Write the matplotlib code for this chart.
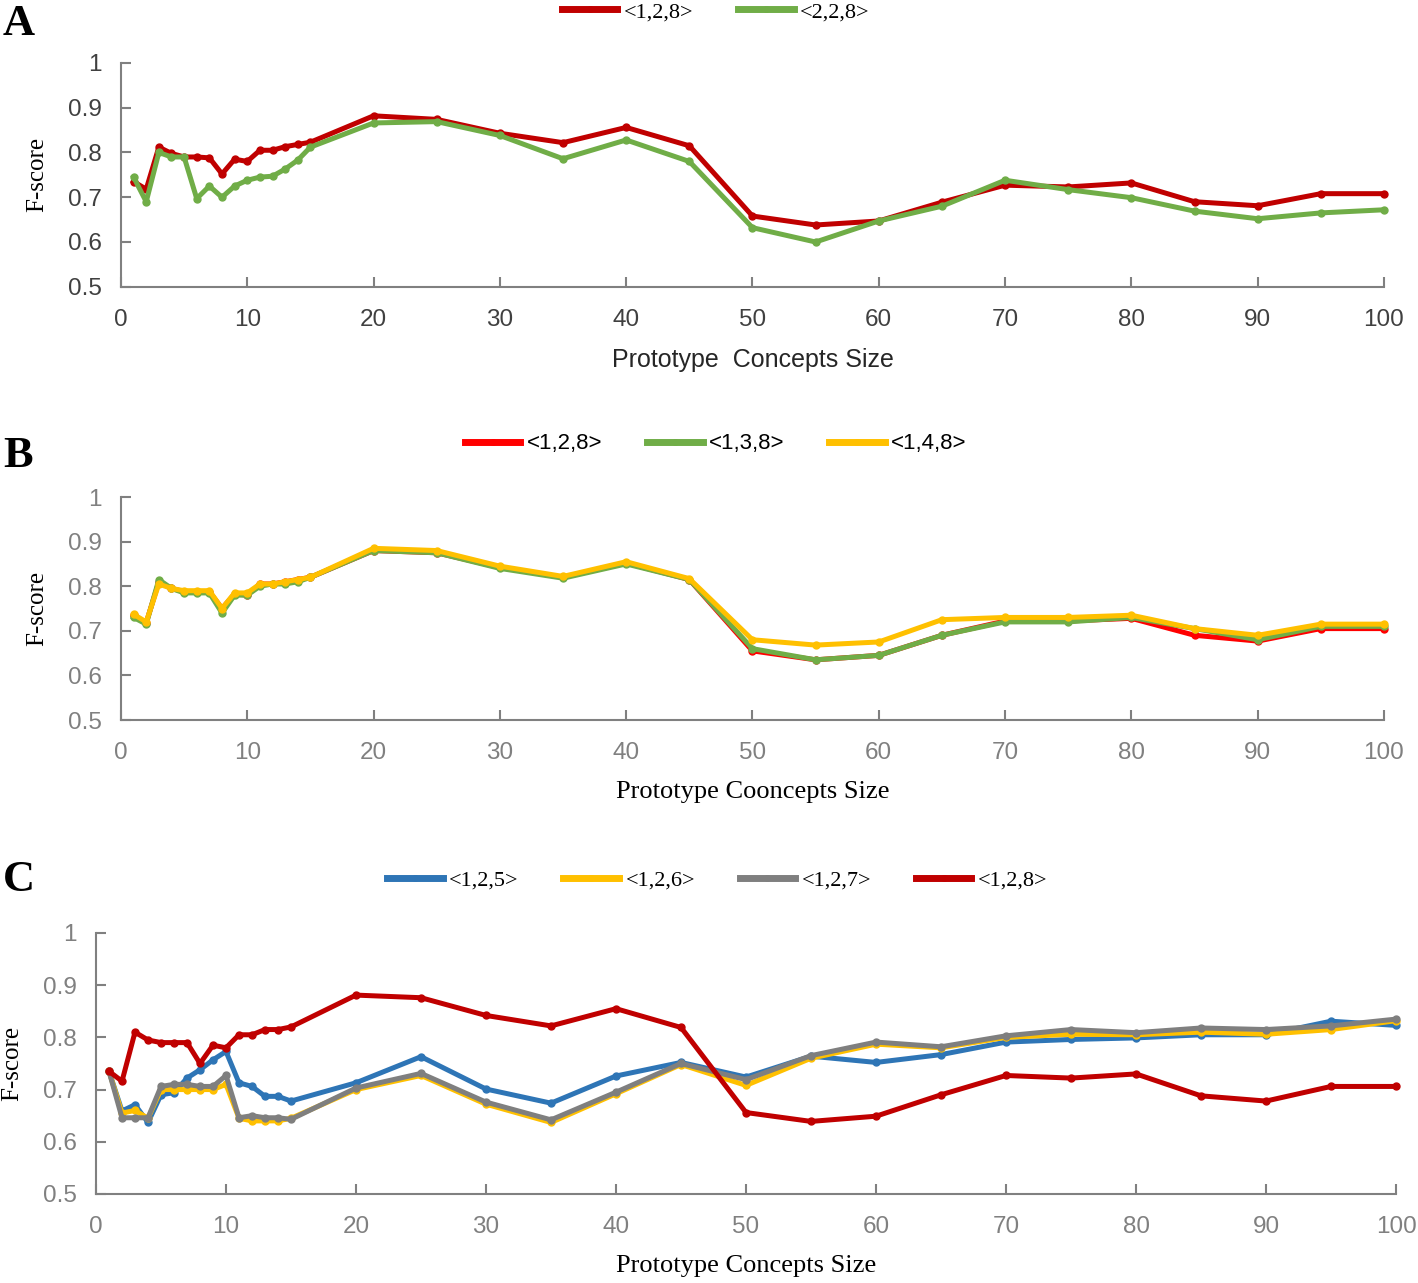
import matplotlib
matplotlib.use("Agg")
import matplotlib.pyplot as plt

# x positions (prototype concept sizes)
sizes = list(range(1, 16)) + list(range(20, 101, 5))

# Panel A
a_128 = [0.735, 0.718, 0.812, 0.798, 0.79, 0.79, 0.788, 0.752, 0.785, 0.78, 0.805, 0.805, 0.813, 0.818, 0.823,
         0.882, 0.874, 0.843, 0.822, 0.856, 0.815, 0.658, 0.638, 0.647, 0.689, 0.727, 0.723, 0.732, 0.69, 0.681, 0.708, 0.708]
a_228 = [0.745, 0.69, 0.80, 0.79, 0.79, 0.697, 0.725, 0.7, 0.725, 0.738, 0.745, 0.747, 0.763, 0.783, 0.812,
         0.866, 0.869, 0.838, 0.786, 0.828, 0.78, 0.632, 0.60, 0.647, 0.68, 0.738, 0.717, 0.699, 0.669, 0.652, 0.665, 0.672]

# Panel B
b_128 = [0.735, 0.718, 0.81, 0.795, 0.788, 0.788, 0.788, 0.75, 0.783, 0.78, 0.805, 0.805, 0.81, 0.815, 0.82,
         0.88, 0.875, 0.842, 0.82, 0.852, 0.815, 0.655, 0.635, 0.645, 0.69, 0.722, 0.722, 0.728, 0.69, 0.677, 0.705, 0.705]
b_138 = [0.73, 0.715, 0.815, 0.795, 0.785, 0.785, 0.785, 0.74, 0.78, 0.78, 0.80, 0.805, 0.805, 0.81, 0.82,
         0.88, 0.875, 0.84, 0.818, 0.85, 0.815, 0.66, 0.635, 0.645, 0.69, 0.72, 0.72, 0.73, 0.705, 0.68, 0.71, 0.71]
b_148 = [0.737, 0.72, 0.805, 0.795, 0.79, 0.79, 0.79, 0.75, 0.785, 0.785, 0.805, 0.805, 0.81, 0.815, 0.82,
         0.885, 0.88, 0.845, 0.822, 0.855, 0.817, 0.68, 0.668, 0.675, 0.725, 0.73, 0.73, 0.735, 0.705, 0.69, 0.715, 0.715]

# Panel C
c_125 = [0.735, 0.659, 0.671, 0.637, 0.69, 0.694, 0.722, 0.738, 0.757, 0.773, 0.713, 0.706, 0.687, 0.687, 0.678,
         0.713, 0.763, 0.701, 0.674, 0.726, 0.752, 0.724, 0.764, 0.752, 0.767, 0.791, 0.796, 0.799, 0.805, 0.805, 0.831, 0.823]
c_126 = [0.735, 0.655, 0.66, 0.645, 0.70, 0.70, 0.70, 0.70, 0.70, 0.71, 0.645, 0.64, 0.64, 0.64, 0.645,
         0.70, 0.727, 0.672, 0.637, 0.692, 0.748, 0.708, 0.76, 0.787, 0.78, 0.80, 0.806, 0.805, 0.81, 0.806, 0.815, 0.832]
c_127 = [0.735, 0.646, 0.646, 0.646, 0.706, 0.71, 0.71, 0.706, 0.706, 0.727, 0.646, 0.65, 0.646, 0.646, 0.643,
         0.703, 0.731, 0.676, 0.642, 0.695, 0.75, 0.719, 0.765, 0.791, 0.782, 0.803, 0.815, 0.809, 0.818, 0.815, 0.822, 0.835]
c_128 = [0.735, 0.716, 0.81, 0.795, 0.79, 0.79, 0.79, 0.75, 0.785, 0.78, 0.805, 0.805, 0.815, 0.815, 0.82,
         0.881, 0.876, 0.842, 0.822, 0.855, 0.819, 0.656, 0.639, 0.649, 0.69, 0.727, 0.722, 0.73, 0.688, 0.678, 0.706, 0.706]

xticks = list(range(0, 101, 10))
yticks = [0.5, 0.6, 0.7, 0.8, 0.9, 1]
ytick_labels = ["0.5", "0.6", "0.7", "0.8", "0.9", "1"]

SERIF = "Liberation Serif"
SANS = "Liberation Sans"

fig = plt.figure(figsize=(14.18, 12.83), dpi=100)


def style_axes(ax, tick_color):
    ax.set_xlim(0, 100)
    ax.set_ylim(0.5, 1.0)
    ax.set_xticks(xticks)
    ax.set_yticks(yticks)
    ax.set_yticklabels(ytick_labels)
    for s in ["top", "right"]:
        ax.spines[s].set_visible(False)
    for s in ["left", "bottom"]:
        ax.spines[s].set_color("#808080")
        ax.spines[s].set_linewidth(1.5)
    ax.tick_params(direction="in", length=7, width=1.5, color="#808080",
                   labelcolor=tick_color, labelsize=17.5)
    ax.tick_params(axis="x", pad=16)
    ax.tick_params(axis="y", pad=14)
    for lab in ax.get_xticklabels() + ax.get_yticklabels():
        lab.set_family(SANS)


def draw(ax, series, labels, colors, leg_font, leg_x, leg_y):
    for ys, lab, c in zip(series, labels, colors):
        ax.plot(sizes, ys, color=c, lw=3.6, marker="o", ms=5, label=lab, clip_on=False)
    leg = ax.legend(loc="center", bbox_to_anchor=(leg_x, leg_y), ncol=len(series), frameon=False,
                    handlelength=2.5, columnspacing=2.0, handletextpad=0.3, numpoints=1,
                    prop={"family": leg_font, "size": 16})
    for ln in leg.get_lines():
        ln.set_linewidth(5)
        ln.set_markersize(4)


# Panel A
axA = fig.add_axes([0.0853, 0.7765, 0.8907, 0.1744])
draw(axA, [a_128, a_228], ["<1,2,8>", "<2,2,8>"], ["#C00000", "#70AD47"], SERIF, 0.471, 1.228)
style_axes(axA, "#404040")
axA.set_xlabel("Prototype  Concepts Size", family=SANS, fontsize=18, color="#262626", labelpad=12)
axA.set_ylabel("F-score", family=SERIF, fontsize=18, labelpad=14)

# Panel B
axB = fig.add_axes([0.0853, 0.4388, 0.8907, 0.1738])
draw(axB, [b_128, b_138, b_148], ["<1,2,8>", "<1,3,8>", "<1,4,8>"],
     ["#FF0000", "#70AD47", "#FFC000"], SANS, 0.471, 1.238)
style_axes(axB, "#808080")
axB.set_xlabel("Prototype Cooncepts Size", family=SERIF, fontsize=19, labelpad=12)
axB.set_ylabel("F-score", family=SERIF, fontsize=18, labelpad=14)

# Panel C
axC = fig.add_axes([0.0677, 0.0694, 0.9168, 0.2034])
draw(axC, [c_125, c_126, c_127, c_128], ["<1,2,5>", "<1,2,6>", "<1,2,7>", "<1,2,8>"],
     ["#2E75B6", "#FFC000", "#7F7F7F", "#C00000"], SERIF, 0.478, 1.203)
style_axes(axC, "#808080")
axC.set_xlabel("Prototype Concepts Size", family=SERIF, fontsize=19, labelpad=12)
axC.set_ylabel("F-score", family=SERIF, fontsize=18, labelpad=14)

# panel letters
for letter, y in [("A", 0.997), ("B", 0.660), ("C", 0.330)]:
    fig.text(0.002, y, letter, family=SERIF, fontweight="bold", fontsize=32, va="top")

fig.savefig("out.png", dpi=100)
